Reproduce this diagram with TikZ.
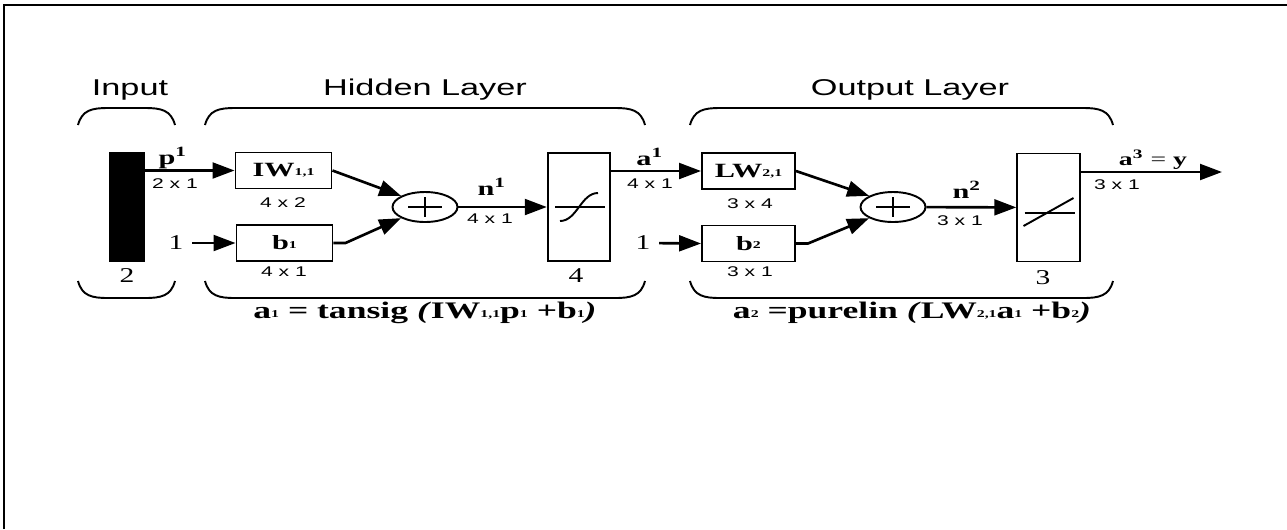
\documentclass[tikz,border=0pt]{standalone}
\usepackage{graphicx}
\usepackage{fontspec}
\setmainfont{Liberation Serif}
\setsansfont{Liberation Sans}
\usetikzlibrary{arrows.meta,shapes.geometric}
\newcommand{\lo}[1]{{\fontsize{6}{6}\selectfont\raisebox{0.3ex}{#1}}}
\newcommand{\bx}[1]{\scalebox{1.5}[1]{\bfseries\fontsize{11.5}{12}\selectfont #1}}

\begin{document}
\begin{tikzpicture}[x=0.02cm,y=-0.02cm,
    >={Triangle[length=12.5pt,width=9pt]},
    conn/.style={->,line width=1.5pt},
    blk/.style={draw,line width=1.1pt,minimum width=1.92cm,minimum height=0.72cm,inner sep=0pt},
    tfbox/.style={draw,line width=1.1pt,minimum width=1.25cm,minimum height=2.16cm,inner sep=0pt},
    sumnode/.style={draw,ellipse,line width=1.1pt,minimum width=1.3cm,minimum height=0.6cm,inner sep=0pt},
    head/.style={font=\sffamily\fontsize{13}{15}\selectfont,xscale=1.5},
    lbl/.style={font=\bfseries\fontsize{11.5}{12}\selectfont,xscale=1.5},
    dim/.style={font=\sffamily\fontsize{8}{9}\selectfont,xscale=1.5},
    num/.style={font=\fontsize{12}{13}\selectfont,xscale=1.4},
    eqn/.style={font=\bfseries\fontsize{13.5}{15}\selectfont,xscale=1.5},
    brace/.style={line width=1.1pt}]
    \useasboundingbox (0,0) rectangle (1287,529);
    % frame
    \draw[line width=1.1pt] (4,529) -- (4,5) -- (1287,5);
    % headings
    \node[head] (tin) at (130,90) {Input};
    \node[head] (thid) at (425,90) {Hidden Layer};
    \node[head] (tout) at (910,90) {Output Layer};
    % braces on top
    \draw[brace] (78,125) .. controls (82,110) and (92,108) .. (108,108) -- (145,108) .. controls (161,108) and (171,110) .. (175,125);
    \draw[brace] (205,125) .. controls (209,110) and (219,108) .. (235,108) -- (615,108) .. controls (631,108) and (641,110) .. (645,125);
    \draw[brace] (690,125) .. controls (694,110) and (704,108) .. (720,108) -- (1083,108) .. controls (1099,108) and (1109,110) .. (1113,125);
    % braces below
    \draw[brace] (78,281) .. controls (82,296) and (92,298) .. (108,298) -- (145,298) .. controls (161,298) and (171,296) .. (175,281);
    \draw[brace] (205,281) .. controls (209,296) and (219,298) .. (235,298) -- (615,298) .. controls (631,298) and (641,296) .. (645,281);
    \draw[brace] (690,281) .. controls (694,296) and (704,298) .. (720,298) -- (1083,298) .. controls (1099,298) and (1109,296) .. (1113,281);
    % input
    \node[fill=black,minimum width=0.72cm,minimum height=2.2cm,inner sep=0pt] (bar) at (127,207) {};
    \node[num] (nin) at (127,276) {2};
    % hidden layer
    \node[blk] (iw) at (283.5,170.5) {\bx{IW\lo{1,1}}};
    \node[blk] (b1) at (284.5,243) {\bx{b\lo{1}}};
    \node[sumnode] (sum1) at (425,207) {};
    \node[tfbox] (tf1) at (579,207) {};
    \node[num] (one1) at (176,243) {1};
    \node[num] (nhid) at (576,276) {4};
    % output layer
    \node[blk,minimum width=1.86cm] (lw) at (748.5,171) {\bx{LW\lo{2,1}}};
    \node[blk,minimum width=1.86cm] (b2) at (748.5,243.5) {\bx{b\lo{2}}};
    \node[sumnode] (sum2) at (893,207) {};
    \node[tfbox] (tf2) at (1048.5,207.5) {};
    \node[num] (one2) at (643,243) {1};
    \node[num] (nout) at (1043,278) {3};
    \coordinate (out) at (1222,172);
    % plus signs
    \foreach \s in {sum1,sum2}
      \draw[line width=1.1pt] (\s.center) +(-17,0) -- +(17,0) (\s.center) +(0,-10) -- +(0,10);
    % tansig
    \begin{scope}[shift={(tf1.center)}]
      \draw[line width=0.9pt] (-24,0) -- (26,0);
      \draw[line width=1.1pt] (-19,14) .. controls (-2,14) and (2,-14) .. (19,-14);
    \end{scope}
    % purelin
    \begin{scope}[shift={(tf2.center)}]
      \draw[line width=0.9pt] (-24,5.5) -- (26,5.5);
      \draw[line width=1.1pt] (-25,18.5) -- (25,-9.5);
    \end{scope}
    % connectors
    \draw[conn] (bar.east |- iw.west) -- (iw.west);
    \draw[conn] (one1) -- (b1.west);
    \draw[conn] (iw.east) -- (sum1.155);
    \draw[conn] (b1.east) -- ++(12,0) -- (sum1.205);
    \draw[conn] (sum1) -- (tf1);
    \draw[conn] (tf1.east |- lw.west) -- (lw.west);
    \draw[conn] (one2) -- (b2.west);
    \draw[conn] (lw.east) -- (sum2.155);
    \draw[conn] (b2.east) -- ++(12,0) -- (sum2.205);
    \draw[conn] (sum2) -- (tf2);
    \draw[conn] (tf2.east |- out) -- (out);
    % signal labels
    \node[lbl] (lp) at (173,158) {p\textsuperscript{1}};
    \node[dim] (dp) at (175,184) {2 x 1};
    \node[dim] (diw) at (283,203) {4 x 2};
    \node[dim] (db1) at (284,272) {4 x 1};
    \node[lbl] (ln1) at (492,187) {n\textsuperscript{1}};
    \node[dim] (dn1) at (490,219) {4 x 1};
    \node[lbl] (la1) at (650,157) {a\textsuperscript{1}};
    \node[dim] (da1) at (650,184) {4 x 1};
    \node[dim] (dlw) at (750,204) {3 x 4};
    \node[dim] (db2) at (750,272) {3 x 1};
    \node[lbl] (ln2) at (967,190) {n\textsuperscript{2}};
    \node[dim] (dn2) at (960,221) {3 x 1};
    \node[lbl,font=\bfseries\fontsize{10.5}{12}\selectfont] (la3) at (1153,160) {a\textsuperscript{3} {\mdseries =} y};
    \node[dim] (da3) at (1117,185) {3 x 1};
    % transfer equations
    \node[eqn] (eq1) at (425,313) {a\lo{1} = tansig \textit{(}IW\lo{1,1}p\lo{1} +b\lo{1}\textit{)}};
    \node[eqn] (eq2) at (912,313) {a\lo{2} =purelin \textit{(}LW\lo{2,1}a\lo{1} +b\lo{2}\textit{)}};
\end{tikzpicture}
\end{document}
